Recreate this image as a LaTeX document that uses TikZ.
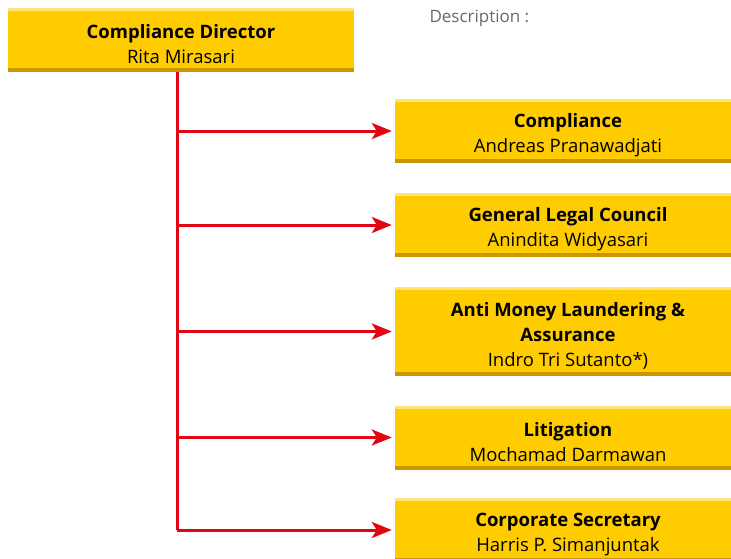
\documentclass[tikz,border=0pt]{standalone}
\usepackage{fontspec}
\setmainfont{Open Sans}
\usepackage{tikz}
\usetikzlibrary{arrows.meta,positioning}
\definecolor{boxyellow}{RGB}{255,204,0}
\definecolor{boxshade}{RGB}{201,150,0}
\definecolor{boxlight}{RGB}{255,228,120}
\definecolor{linkred}{RGB}{226,6,19}
\definecolor{notegray}{RGB}{105,105,105}
\newcommand{\unitlift}{\rule{0pt}{23pt}}

\begin{document}
\begin{tikzpicture}[x=1pt,y=1pt,
    unit/.style={fill=boxyellow, minimum width=346pt, minimum height=64pt,
        inner sep=0pt, align=center, font=\fontsize{18.5}{25}\selectfont,
        path picture={
            \fill[boxlight] (path picture bounding box.north west) rectangle ([yshift=-3pt]path picture bounding box.north east);
            \fill[boxshade] ([yshift=4pt]path picture bounding box.south west) rectangle (path picture bounding box.south east);
        }},
    link/.style={draw=linkred, line width=3pt, shorten >=3pt,
        -{Stealth[length=20pt,width=16pt,inset=5pt]}}]
                \useasboundingbox (0,0) rectangle (731,-558);
                % Head of unit
                \node[unit] (dir) at (181,-40) {\unitlift\textbf{Compliance Director}\\Rita Mirasari};
                \node[text=notegray, anchor=west, font=\fontsize{17}{20}\selectfont] (note) at (426,-18.5) {Description :};
                % Reporting units
                \node[unit] (comp) at (568,-131) {\unitlift\textbf{Compliance}\\Andreas Pranawadjati};
                \node[unit] (legal) at (568,-225) {\unitlift\textbf{General Legal Council}\\Anindita Widyasari};
                \node[unit, minimum height=89pt] (aml) at (568,-331.5) {\unitlift\textbf{Anti Money Laundering \&}\\\textbf{Assurance}\\Indro Tri Sutanto*)};
                \node[unit] (lit) at (568,-437.5) {\unitlift\textbf{Litigation}\\Mochamad Darmawan};
                \node[unit] (sec) at (568,-530) {\unitlift\textbf{Corporate Secretary}\\Harris P. Simanjuntak};
                % Reporting lines
                \coordinate (trunk) at (177,-72);
                \draw[linkred, line width=3pt] (trunk) -- (trunk |- sec.west);
                \foreach \u in {comp,legal,aml,lit,sec}
                    \draw[link] (trunk |- \u.west) -- (\u.west);
            \end{tikzpicture}
\end{document}
